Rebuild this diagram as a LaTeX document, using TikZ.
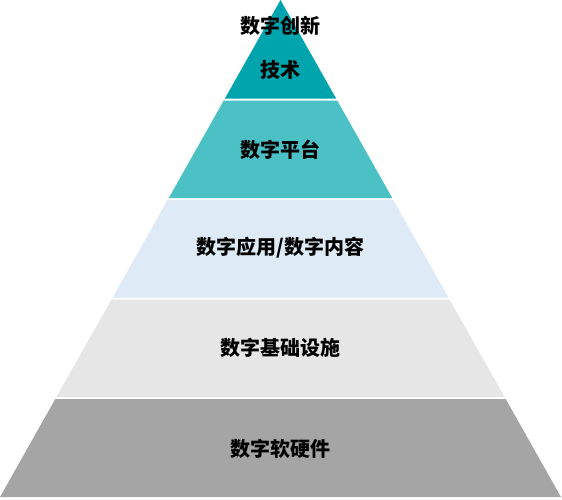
\documentclass[tikz,border=0pt]{standalone}
\usepackage{fontspec}
\newfontfamily\cjk{Noto Sans CJK SC}
\usepackage{tikz}
\definecolor{tealdark}{HTML}{00A4AC}
\definecolor{teallight}{HTML}{4BC1C6}
\definecolor{bluepale}{HTML}{DEEBF7}
\definecolor{greylight}{HTML}{E7E6E6}
\definecolor{greymid}{HTML}{A5A5A5}
\tikzset{
    layer_one/.style = {
        fill=tealdark,
        draw=none
    },
    layer_two/.style = {
        fill=teallight,
        draw=none
    },
    layer_three/.style = {
        fill=bluepale,
        draw=none
    },
    layer_four/.style = {
        fill=greylight,
        draw=none
    },
    layer_five/.style = {
        fill=greymid,
        draw=none
    },
    label/.style = {
        font=\cjk\bfseries\fontsize{15pt}{17pt}\selectfont,
        text=black,
        inner sep=0pt
    },
}

\begin{document}
\begin{tikzpicture}[x=0.75pt, y=-0.75pt]
                \useasboundingbox (0, 0) rectangle (562, 500);
                \begin{scope}
                    \path[layer_one] (280.5, 0) -- (336.1, 98.5) -- (224.9, 98.5) -- cycle;
                    \path[layer_two] (223.8, 100.5) -- (337.2, 100.5) -- (392.25, 198) -- (168.75, 198) -- cycle;
                    \path[layer_three] (167.6, 200) -- (393.4, 200) -- (448.4, 297.5) -- (112.6, 297.5) -- cycle;
                    \path[layer_four] (111.5, 299.5) -- (449.5, 299.5) -- (504.6, 397) -- (56.4, 397) -- cycle;
                    \path[layer_five] (55.3, 399) -- (505.7, 399) -- (561, 497) -- (0, 497) -- cycle;
                \end{scope}

                \node[label] (innovation) at (280.5, 26) {数字创新};
                \node[label] (technology) at (280.5, 70) {技术};
                \node[label] (platform) at (280.5, 150) {数字平台};
                \node[label] (application) at (280.5, 248) {数字应用/数字内容};
                \node[label] (infrastructure) at (280.5, 348) {数字基础设施};
                \node[label] (hardware) at (280.5, 449) {数字软硬件};
            \end{tikzpicture}
\end{document}
